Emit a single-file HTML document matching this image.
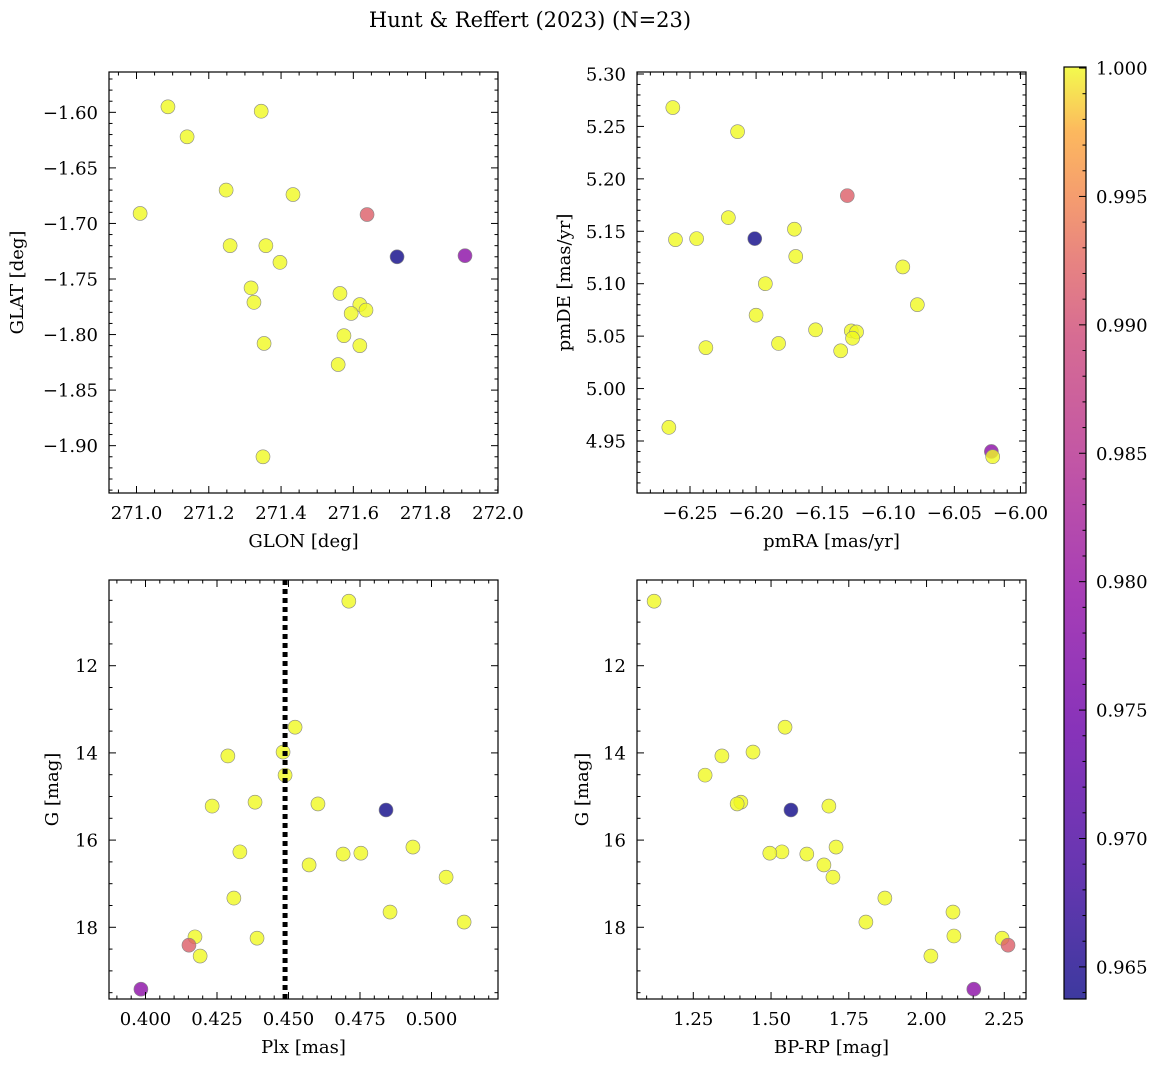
<!DOCTYPE html>
<html><head><meta charset="utf-8">
<style>
html,body{margin:0;padding:0;background:#fff;}
svg{display:block;font-family:"DejaVu Serif","Liberation Serif",serif;}
</style></head>
<body>
<svg id="fig" width="1161" height="1067" viewBox="0 0 1161 1067">
<defs>
<linearGradient id="cbgrad" x1="0" y1="1" x2="0" y2="0">
<stop offset="0" stop-color="#0d0887"/><stop offset="0.14" stop-color="#41049d"/>
<stop offset="0.29" stop-color="#6a00a8"/><stop offset="0.43" stop-color="#8f0da4"/>
<stop offset="0.57" stop-color="#b12a90"/><stop offset="0.71" stop-color="#cc4778"/>
<stop offset="0.79" stop-color="#e16462"/><stop offset="0.86" stop-color="#f2844b"/>
<stop offset="0.93" stop-color="#fca636"/><stop offset="1" stop-color="#f0f921"/>
</linearGradient>
</defs>
<text x="530" y="27" font-size="21" text-anchor="middle">Hunt &amp; Reffert (2023) (N=23)</text>
</svg>
<script>
// ---- data ----
const probability = [1,1,1,1,1,1,0.987,1,1,1,0.9638,0.9752,1,1,1,1,1,1,1,1,1,1,1];
const glon = [271.087,271.140,271.345,271.248,271.433,271.010,271.638,271.259,271.358,271.397,271.721,271.909,271.317,271.325,271.563,271.618,271.594,271.635,271.574,271.353,271.618,271.558,271.350];
const glat = [-1.595,-1.622,-1.599,-1.670,-1.674,-1.691,-1.692,-1.720,-1.720,-1.735,-1.730,-1.729,-1.758,-1.771,-1.763,-1.773,-1.781,-1.778,-1.801,-1.808,-1.810,-1.827,-1.910];
const pmraProb = [1,1,0.987,1,1,1,1,0.9638,1,1,1,1,1,1,1,1,1,1,1,1,1,0.9752,1];
const pmra = [-6.263,-6.214,-6.131,-6.221,-6.171,-6.261,-6.245,-6.201,-6.170,-6.089,-6.193,-6.078,-6.200,-6.155,-6.128,-6.124,-6.127,-6.183,-6.136,-6.238,-6.266,-6.022,-6.021];
const pmde = [5.268,5.245,5.184,5.163,5.152,5.142,5.143,5.143,5.126,5.116,5.100,5.080,5.070,5.056,5.055,5.054,5.048,5.043,5.036,5.039,4.963,4.940,4.935];
const plxProb = [1,1,1,1,1,1,1,1,0.9638,1,1,1,1,1,1,1,1,1,1,1,0.987,1,0.9752];
const plx = [0.4711,0.4523,0.4481,0.4288,0.4488,0.4233,0.4383,0.4603,0.4841,0.4330,0.4935,0.4572,0.4691,0.4753,0.5051,0.4309,0.4855,0.5114,0.4173,0.4390,0.4152,0.4191,0.3984];
const gmagPlx = [10.52,13.41,13.98,14.07,14.51,15.22,15.13,15.17,15.31,16.27,16.16,16.57,16.32,16.30,16.85,17.33,17.65,17.88,18.22,18.25,18.41,18.66,19.42];
const plxLine = 0.4488;
const bprpProb = [1,1,1,1,1,1,1,0.9638,1,1,1,1,1,1,1,1,1,1,1,1,0.987,1,0.9752];
const bprp = [1.124,1.545,1.442,1.342,1.288,1.403,1.391,1.564,1.686,1.709,1.535,1.496,1.615,1.670,1.699,1.866,2.085,1.805,2.088,2.243,2.262,2.014,2.152];
const gmagCmd = [10.52,13.41,13.98,14.07,14.51,15.13,15.17,15.31,15.22,16.16,16.27,16.30,16.32,16.57,16.85,17.33,17.65,17.88,18.20,18.25,18.41,18.66,19.42];
const cbTicks = [0.965,0.970,0.975,0.980,0.985,0.990,0.995,1.000];
const glonTicks = [271.0,271.2,271.4,271.6,271.8,272.0];
const glatTicks = [-1.60,-1.65,-1.70,-1.75,-1.80,-1.85,-1.90];
const pmraTicks = [-6.25,-6.20,-6.15,-6.10,-6.05,-6.00];
const pmdeTicks = [4.95,5.00,5.05,5.10,5.15,5.20,5.25,5.30];
const plxTicks = [0.400,0.425,0.450,0.475,0.500];
const gTicks = [12,14,16,18];
const bprpTicks = [1.25,1.50,1.75,2.00,2.25];

const svg = document.getElementById('fig');
const NS = 'http://www.w3.org/2000/svg';
function mk(tag, attrs, parent){const e=document.createElementNS(NS,tag);for(const k in attrs)e.setAttribute(k,attrs[k]);(parent||svg).appendChild(e);return e;}

const plasma=[[13,8,135],[65,4,157],[106,0,168],[143,13,164],[177,42,144],[204,71,120],[225,100,98],[242,132,75],[252,166,54],[240,249,33]];
const CMIN=0.96375, CMAX=1.0;
function cmap(v){let t=(v-CMIN)/(CMAX-CMIN);t=Math.max(0,Math.min(1,t))*(plasma.length-1);const i=Math.min(Math.floor(t),plasma.length-2);const f=t-i;const a=plasma[i],b=plasma[i+1];return 'rgb('+a.map((c,j)=>Math.round(c+(b[j]-c)*f)).join(',')+')';}

function lin(d0,d1,r0,r1){return v=>r0+(v-d0)*(r1-r0)/(d1-d0);}
const FS=18;

function panel(name,box,xd,yd,xt,yt,xfmt,yfmt,xminorN,yminorN,xlabel,ylabel,ylx,xs,ys,cs){
  const g=mk('g',{});  
  const X=lin(xd[0],xd[1],box.x0,box.x1), Y=lin(yd[0],yd[1],box.y0,box.y1);
  for(let i=0;i<xs.length;i++){
    const c=mk('circle',{cx:X(xs[i]),cy:Y(ys[i]),r:7,fill:cmap(cs[i]),'fill-opacity':0.8,stroke:'#888','stroke-width':0.6},g);
    
    
  }
  const fr=mk('rect',{x:box.x0,y:box.y0,width:box.x1-box.x0,height:box.y1-box.y0,fill:'none',stroke:'#000','stroke-width':1.2},g);
  
  
  function ticksX(vals,len){for(const v of vals){const x=X(v);if(x<box.x0-0.5||x>box.x1+0.5)continue;mk('line',{x1:x,x2:x,y1:box.y1,y2:box.y1-len,stroke:'#000','stroke-width':1},g);mk('line',{x1:x,x2:x,y1:box.y0,y2:box.y0+len,stroke:'#000','stroke-width':1},g);}}
  function ticksY(vals,len){for(const v of vals){const y=Y(v);if(y<Math.min(box.y0,box.y1)-0.5||y>Math.max(box.y0,box.y1)+0.5)continue;mk('line',{x1:box.x0,x2:box.x0+len,y1:y,y2:y,stroke:'#000','stroke-width':1},g);mk('line',{x1:box.x1,x2:box.x1-len,y1:y,y2:y,stroke:'#000','stroke-width':1},g);}}
  function minors(t,n){const s=t[1]-t[0],out=[];for(let k=-n*2;k<(t.length+2)*n;k++)if(k%n)out.push(t[0]+k*s/n);return out;}
  ticksX(xt,7);ticksY(yt,7);ticksX(minors(xt,xminorN),3.5);ticksY(minors(yt,yminorN),3.5);
  for(const v of xt){const t=mk('text',{x:X(v),y:box.y1+26,'font-size':FS,'text-anchor':'middle'},g);t.textContent=xfmt(v);}
  for(const v of yt){const t=mk('text',{x:box.x0-11,y:Y(v)+6.5,'font-size':FS,'text-anchor':'end'},g);t.textContent=yfmt(v);}
  const xl=mk('text',{x:(box.x0+box.x1)/2,y:box.y1+54,'font-size':FS,'text-anchor':'middle'},g);xl.textContent=xlabel;
  const ym=(box.y0+box.y1)/2, yx=ylx+6;
  const yl=mk('text',{x:yx,y:ym,'font-size':FS,'text-anchor':'middle',transform:'rotate(-90 '+yx+' '+ym+')'},g);yl.textContent=ylabel;
  return {X,Y,g};
}
const neg=s=>s.replace('-','\u2212');
panel('panel-glon-glat',{x0:109,x1:498,y0:72,y1:493},[270.9239,272.0003],[-1.5637,-1.9426],glonTicks,glatTicks,v=>v.toFixed(1),v=>neg(v.toFixed(2)),4,5,'GLON [deg]','GLAT [deg]',17,glon,glat,probability);
panel('panel-pmra-pmde',{x0:637,x1:1026,y0:72,y1:493},[-6.2901,-5.9958],[5.3019,4.9004],pmraTicks,pmdeTicks,v=>neg(v.toFixed(2)),v=>v.toFixed(2),5,5,'pmRA [mas/yr]','pmDE [mas/yr]',564,pmra,pmde,pmraProb);
const pl=panel('panel-plx-g',{x0:109,x1:498,y0:580,y1:999},[0.38724,0.52325],[10.034,19.645],plxTicks,gTicks,v=>v.toFixed(3),v=>String(v),5,4,'Plx [mas]','G [mag]',52,plx,gmagPlx,plxProb);
const ln=mk('line',{x1:pl.X(plxLine),x2:pl.X(plxLine),y1:580,y2:999,stroke:'#000','stroke-width':5,'stroke-dasharray':'5 4'},pl.g);


panel('panel-bprp-g',{x0:637,x1:1026,y0:580,y1:999},[1.0690,2.3198],[10.034,19.645],bprpTicks,gTicks,v=>v.toFixed(2),v=>String(v),5,4,'BP-RP [mag]','G [mag]',582,bprp,gmagCmd,bprpProb);

const cb=mk('g',{});
const cbY=lin(CMIN,1.00004,999,67);
mk('rect',{x:1064,y:67,width:22,height:932,fill:'url(#cbgrad)','fill-opacity':0.8},cb);
mk('rect',{x:1064,y:67,width:22,height:932,fill:'none',stroke:'#000','stroke-width':1.2},cb);
for(const v of cbTicks){const y=cbY(v);mk('line',{x1:1086,x2:1079,y1:y,y2:y,stroke:'#000','stroke-width':1},cb);const t=mk('text',{x:1096,y:y+6.5,'font-size':FS},cb);t.textContent=v.toFixed(3);}
for(let k=0;k<60;k++){const v=0.964+k*0.001;if(Math.round(v*1000)%5===0)continue;const y=cbY(v);if(y<67||y>999)continue;mk('line',{x1:1086,x2:1082.5,y1:y,y2:y,stroke:'#000','stroke-width':1},cb);}
</script>
</body></html>
